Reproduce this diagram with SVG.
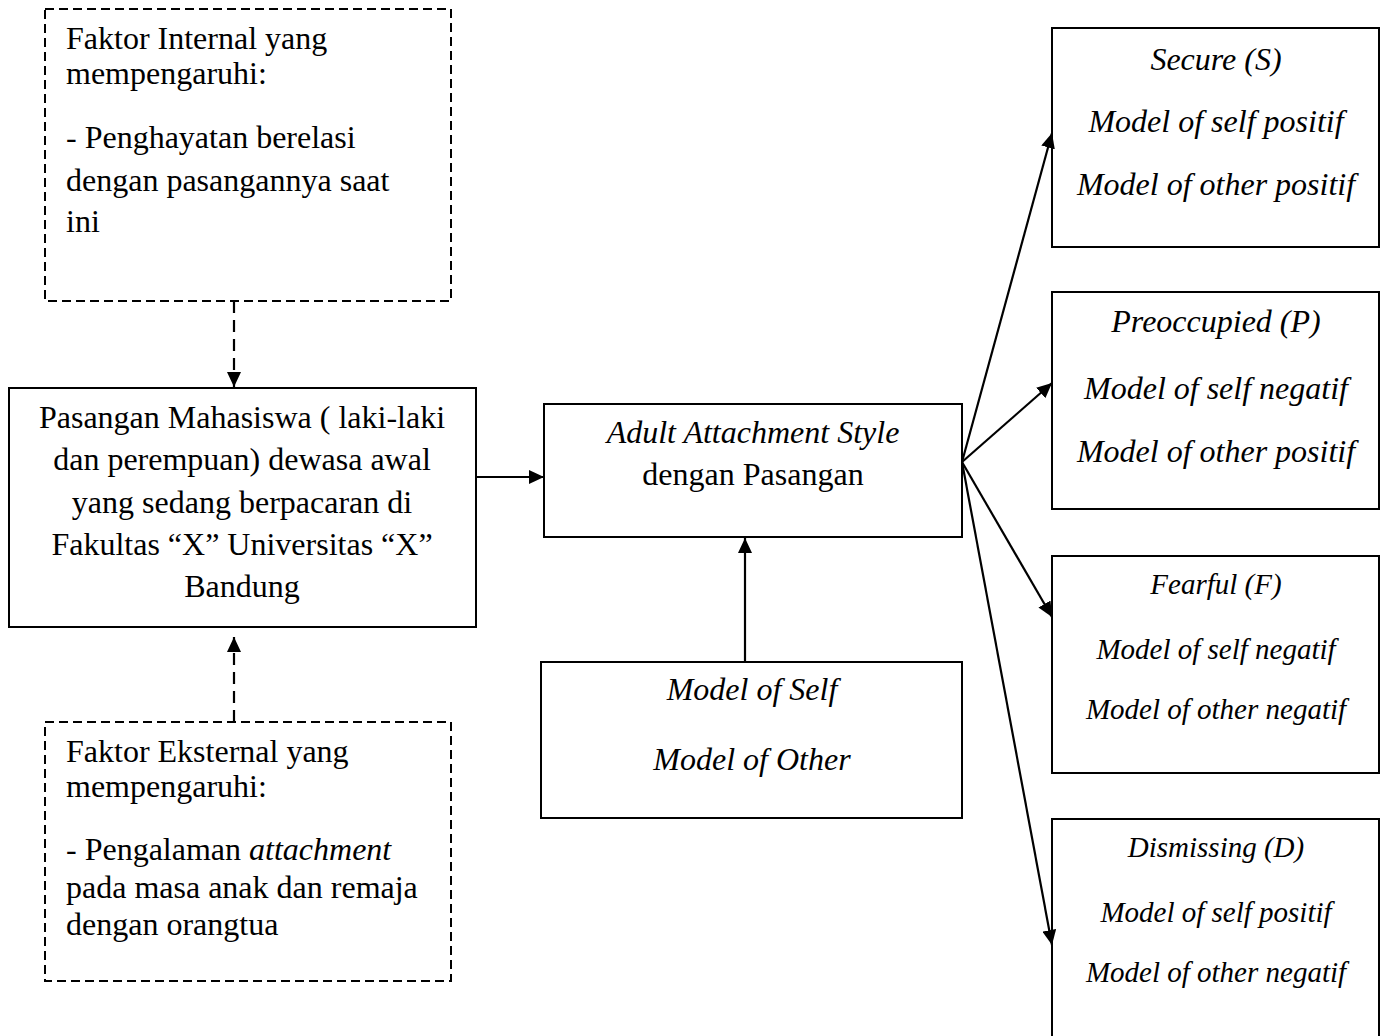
<svg xmlns="http://www.w3.org/2000/svg" width="1387" height="1036" viewBox="0 0 1387 1036">
<style>
  .bg { fill: #ffffff; }
  .box { fill: #ffffff; stroke: #000000; stroke-width: 2; }
  .dbox { fill: #ffffff; stroke: #000000; stroke-width: 2; stroke-dasharray: 9 5; }
  .t { font-family: "Liberation Serif", "Times New Roman", serif; font-size: 32px; fill: #000000; }
  .c { text-anchor: middle; }
  .i { font-style: italic; }
  .s { font-size: 29px; }
  .ln { fill: none; stroke: #000000; stroke-width: 2.2; }
  .dl { fill: none; stroke: #000000; stroke-width: 2.2; stroke-dasharray: 12 7; }
</style>
<defs>
  <marker id="ah" viewBox="0 0 15 14" markerWidth="15" markerHeight="14" refX="15" refY="7" orient="auto" markerUnits="userSpaceOnUse">
    <path d="M0,0 L15,7 L0,14 z" fill="#000000" stroke="none"/>
  </marker>
</defs>
<rect class="bg" x="0" y="0" width="1387" height="1036"/>

<g id="faktor-internal">
  <rect class="dbox" x="45" y="9" width="406" height="292"/>
  <text class="t" x="66" y="49">Faktor Internal yang</text>
  <text class="t" x="66" y="84">mempengaruhi:</text>
  <text class="t" x="66" y="148">- Penghayatan berelasi</text>
  <text class="t" x="66" y="191">dengan pasangannya saat</text>
  <text class="t" x="66" y="232">ini</text>
</g>

<g id="pasangan-mahasiswa">
  <rect class="box" x="9" y="388" width="467" height="239"/>
  <text class="t c" x="242" y="428">Pasangan Mahasiswa ( laki-laki</text>
  <text class="t c" x="242" y="470">dan perempuan) dewasa awal</text>
  <text class="t c" x="242" y="513">yang sedang berpacaran di</text>
  <text class="t c" x="242" y="555">Fakultas “X” Universitas “X”</text>
  <text class="t c" x="242" y="597">Bandung</text>
</g>

<g id="faktor-eksternal">
  <rect class="dbox" x="45" y="722" width="406" height="259"/>
  <text class="t" x="66" y="762">Faktor Eksternal yang</text>
  <text class="t" x="66" y="797">mempengaruhi:</text>
  <text class="t" x="66" y="860">- Pengalaman <tspan class="i">attachment</tspan></text>
  <text class="t" x="66" y="898">pada masa anak dan remaja</text>
  <text class="t" x="66" y="935">dengan orangtua</text>
</g>

<g id="adult-attachment-style">
  <rect class="box" x="544" y="404" width="418" height="133"/>
  <text class="t c i" x="753" y="443">Adult Attachment Style</text>
  <text class="t c" x="753" y="485">dengan Pasangan</text>
</g>

<g id="model-self-other">
  <rect class="box" x="541" y="662" width="421" height="156"/>
  <text class="t c i" x="752" y="700">Model of Self</text>
  <text class="t c i" x="752" y="770">Model of Other</text>
</g>

<g id="secure">
  <rect class="box" x="1052" y="28" width="327" height="219"/>
  <text class="t c i" x="1216" y="70">Secure (S)</text>
  <text class="t c i" x="1216" y="132">Model of self positif</text>
  <text class="t c i" x="1216" y="195">Model of other positif</text>
</g>

<g id="preoccupied">
  <rect class="box" x="1052" y="292" width="327" height="217"/>
  <text class="t c i" x="1216" y="332">Preoccupied (P)</text>
  <text class="t c i" x="1216" y="399">Model of self negatif</text>
  <text class="t c i" x="1216" y="462">Model of other positif</text>
</g>

<g id="fearful">
  <rect class="box" x="1052" y="556" width="327" height="217"/>
  <text class="t c i s" x="1216" y="594">Fearful (F)</text>
  <text class="t c i s" x="1216" y="659">Model of self negatif</text>
  <text class="t c i s" x="1216" y="719">Model of other negatif</text>
</g>

<g id="dismissing">
  <rect class="box" x="1052" y="819" width="327" height="240"/>
  <text class="t c i s" x="1216" y="857">Dismissing (D)</text>
  <text class="t c i s" x="1216" y="922">Model of self positif</text>
  <text class="t c i s" x="1216" y="982">Model of other negatif</text>
</g>

<g id="connectors">
  <path class="dl" d="M234,301 L234,387" marker-end="url(#ah)"/>
  <path class="dl" d="M234,722 L234,637" marker-end="url(#ah)"/>
  <path class="ln" d="M476,477 L544,477" marker-end="url(#ah)"/>
  <path class="ln" d="M745,662 L745,538" marker-end="url(#ah)"/>
  <path class="ln" d="M962,462 L1052,133" marker-end="url(#ah)"/>
  <path class="ln" d="M962,462 L1052,383" marker-end="url(#ah)"/>
  <path class="ln" d="M962,462 L1052,617" marker-end="url(#ah)"/>
  <path class="ln" d="M962,462 L1052,945" marker-end="url(#ah)"/>
</g>
</svg>
